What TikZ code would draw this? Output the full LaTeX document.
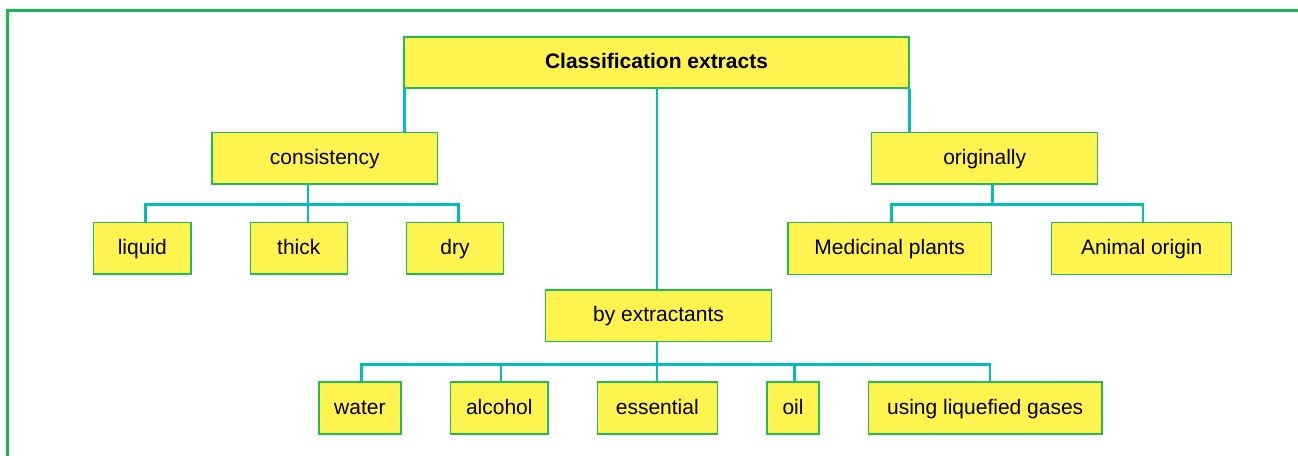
\documentclass[tikz,border=0pt]{standalone}
\usepackage{fontspec}
\setmainfont{Liberation Sans}
\usetikzlibrary{backgrounds}
\definecolor{boxfill}{RGB}{255,243,80}
\definecolor{boxline}{RGB}{30,190,85}
\definecolor{connline}{RGB}{0,190,190}
\definecolor{framegreen}{RGB}{20,185,80}
\begin{document}
\begin{tikzpicture}[x=1pt,y=-1pt,
  box/.style={draw=boxline,fill=boxfill,line width=1.5pt,inner sep=0pt,
    minimum height=51.7pt,text height=15pt,text depth=3pt,
    font=\fontsize{21pt}{25pt}\selectfont},
  conn/.style={draw=connline,line width=2.6pt},
  framestyle/.style={draw=framegreen,line width=3pt}]
\useasboundingbox (0,0) rectangle (1298,455);
\draw[framestyle] (7.7,470) -- (7.7,10) -- (1320,10);

\node[box,minimum width=505pt,minimum height=51pt,font=\fontsize{21pt}{25pt}\selectfont\bfseries] (top) at (656.5,62.5) {Classification extracts};
\node[box,minimum width=225.7pt] (cons) at (324.8,158.2) {consistency};
\node[box,minimum width=226pt] (orig) at (984.7,158.2) {originally};
\node[box,minimum width=97.3pt] (liquid) at (142.3,248.2) {liquid};
\node[box,minimum width=97pt] (thick) at (298.8,248.2) {thick};
\node[box,minimum width=97.4pt] (dry) at (455,248.2) {dry};
\node[box,minimum width=203.3pt] (med) at (889.7,248.5) {Medicinal plants};
\node[box,minimum width=180pt] (anim) at (1141.7,248.5) {Animal origin};
\node[box,minimum width=225.6pt] (ext) at (658.5,315.8) {by extractants};
\node[box,minimum width=82.3pt,minimum height=52pt] (water) at (359.9,408) {water};
\node[box,minimum width=97.3pt,minimum height=52pt] (alcohol) at (499.3,408) {alcohol};
\node[box,minimum width=120pt,minimum height=52pt] (essential) at (657.3,408) {essential};
\node[box,minimum width=52pt,minimum height=52pt] (oil) at (793,408) {oil};
\node[box,minimum width=233.7pt,minimum height=52pt] (gases) at (985.2,408) {using liquefied gases};

\begin{scope}[on background layer]
% top level connectors
\draw[conn] ([xshift=1pt]top.south west) -- ([xshift=1pt]top.south west |- cons.north);
\draw[conn] (top.south east) -- (top.south east |- orig.north);
\draw[conn] ([xshift=0.5pt]top.south) -- ([xshift=0.5pt]top.south |- ext.north);

% consistency
\coordinate (j1) at (308,204.7);
\draw[conn] ([xshift=3pt]liquid.north) |- (j1) -| ([xshift=3.3pt]dry.north);
\draw[conn] (cons.south -| j1) -- (thick.north -| j1);

% originally
\coordinate (j2) at (992.3,204.7);
\draw[conn] ([xshift=2pt]med.north) |- (j2) -| ([xshift=1.3pt]anim.north);
\draw[conn] (orig.south -| j2) -- (j2);

% by extractants
\coordinate (j3) at (657,364.3);
\draw[conn] ([xshift=1.5pt]water.north) |- (j3) -| ([xshift=4.8pt]gases.north);
\draw[conn] (ext.south -| j3) -- (essential.north -| j3);
\draw[conn] ([xshift=1.7pt]alcohol.north) -- ([xshift=1.7pt]alcohol.north |- j3);
\draw[conn] ([xshift=1.3pt]oil.north) -- ([xshift=1.3pt]oil.north |- j3);
\end{scope}
\end{tikzpicture}
\end{document}
